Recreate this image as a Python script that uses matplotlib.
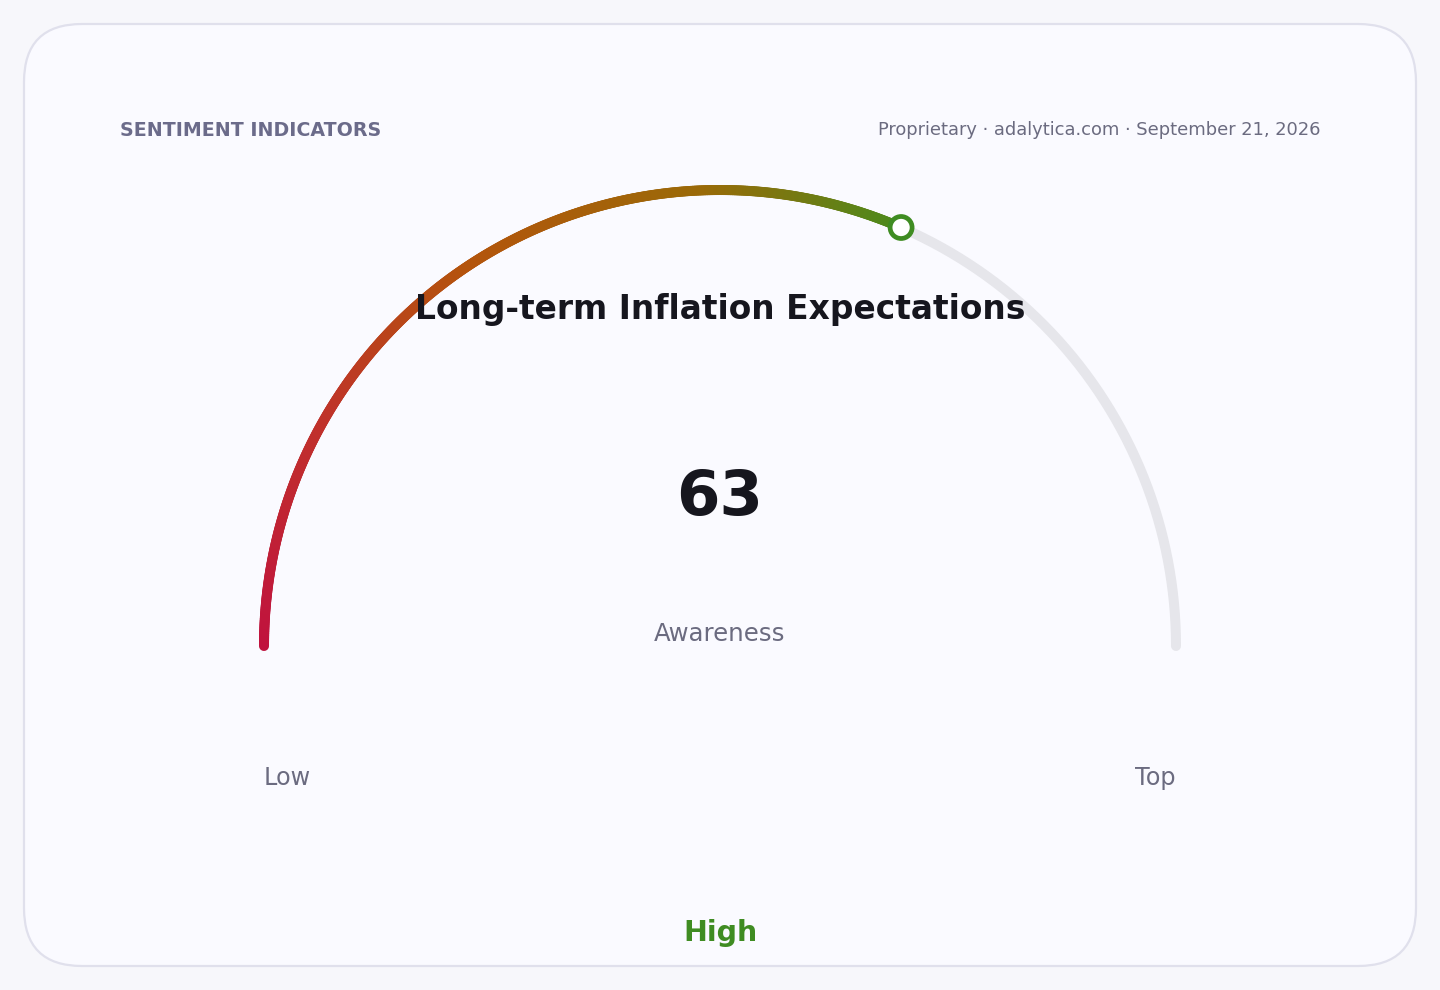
import numpy as np
import matplotlib
matplotlib.use("Agg")
import matplotlib.pyplot as plt
from matplotlib.collections import LineCollection
from matplotlib.patches import FancyBboxPatch, Circle
from matplotlib.colors import LinearSegmentedColormap

plt.rcParams["font.family"] = ["DejaVu Sans"]

# ---- data ----
title = "Long-term Inflation Expectations"
value = 63
vmin, vmax = 0, 100
value_label = "Awareness"
band_label = "High"
min_label = "Low"
max_label = "Top"
header_left = "SENTIMENT INDICATORS"
header_right = "Proprietary · adalytica.com · September 21, 2026"

# ---- style ----
W, H = 1440, 990
fig = plt.figure(figsize=(W / 100, H / 100), dpi=100)
fig.patch.set_facecolor("#f7f7fb")
ax = fig.add_axes([0, 0, 1, 1])
ax.set_xlim(0, W)
ax.set_ylim(H, 0)
ax.axis("off")

card = FancyBboxPatch((24, 24), 1392, 942,
                      boxstyle="round,pad=0,rounding_size=58",
                      facecolor="#fafaff", edgecolor="#e0e0ec", linewidth=1.6)
ax.add_patch(card)

cx, cy, R = 720, 646, 456
lw = 7.2

def pt(v):
    a = np.pi * (1 - (v - vmin) / (vmax - vmin))
    return cx + R * np.cos(a), cy - R * np.sin(a)

# background track
vs = np.linspace(vmin, vmax, 400)
xs, ys = pt(vs)
ax.plot(xs, ys, color="#e6e6eb", lw=lw, solid_capstyle="round", zorder=2)

# gradient value arc
cmap = LinearSegmentedColormap.from_list(
    "g", [(0, "#c0123e"), (0.25, "#c0302c"), (0.5, "#b4540c"),
          (0.78, "#9a6a08"), (1, "#4c8a1c")])
vv = np.linspace(vmin, value, 500)
px, py = pt(vv)
pts = np.column_stack([px, py]).reshape(-1, 1, 2)
segs = np.concatenate([pts[:-1], pts[1:]], axis=1)
lc = LineCollection(segs, colors=cmap(np.linspace(0, 1, len(segs))),
                    linewidths=lw, capstyle="round", zorder=3)
ax.add_collection(lc)

# marker
mx, my = pt(value)
ax.add_patch(Circle((mx, my), 11, facecolor="white", edgecolor="#3f8c22",
                    linewidth=3.4, zorder=5))

# texts
ax.text(120, 130, header_left, ha="left", va="center", fontsize=13.7,
        fontweight="bold", color="#6b6b8a")
ax.text(1320, 130, header_right, ha="right", va="center", fontsize=12.9,
        color="#6b6b80")
ax.text(720, 309, title, ha="center", va="center", fontsize=23.7,
        fontweight="bold", color="#16161e", zorder=6)
ax.text(720, 498, f"{value}", ha="center", va="center", fontsize=45,
        fontweight="bold", color="#16161e")
ax.text(720, 634, value_label, ha="center", va="center", fontsize=17.6,
        color="#6b6b80")
ax.text(264, 778, min_label, ha="left", va="center", fontsize=17.2,
        color="#6b6b80")
ax.text(1176, 778, max_label, ha="right", va="center", fontsize=17.2,
        color="#6b6b80")
ax.text(720, 933, band_label, ha="center", va="center", fontsize=20.5,
        fontweight="bold", color="#3f8c22")

fig.savefig("out.png", dpi=100, facecolor=fig.get_facecolor())
